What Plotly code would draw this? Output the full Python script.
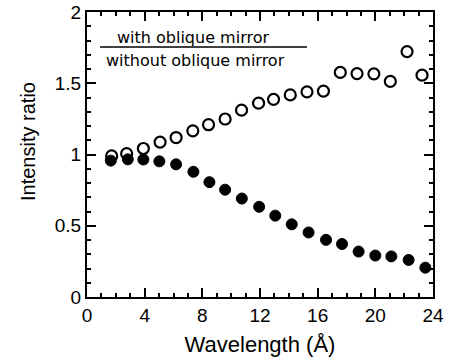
import plotly.graph_objects as go

# Data
wl_open = [1.71, 2.75, 3.91, 5.07, 6.18, 7.34, 8.43, 9.58, 10.72, 11.9,
           12.94, 14.1, 15.26, 16.4, 17.57, 18.73, 19.9, 21.04, 22.2, 23.24]
ratio_open = [0.99, 1.006, 1.042, 1.087, 1.119, 1.166, 1.209, 1.249, 1.311, 1.36,
              1.387, 1.418, 1.44, 1.445, 1.576, 1.568, 1.566, 1.513, 1.722, 1.557]

wl_filled = [1.65, 2.83, 3.91, 5.02, 6.18, 7.38, 8.49, 9.58, 10.74, 11.94,
             13.06, 14.2, 15.37, 16.58, 17.69, 18.84, 20.0, 21.11, 22.31, 23.47]
ratio_filled = [0.957, 0.966, 0.965, 0.952, 0.931, 0.879, 0.806, 0.753, 0.691, 0.633,
                0.571, 0.51, 0.453, 0.401, 0.372, 0.319, 0.291, 0.285, 0.26, 0.206]

x_ticks = [0, 4, 8, 12, 16, 20, 24]
y_ticks = [0, 0.5, 1, 1.5, 2]

fig = go.Figure()
fig.add_trace(go.Scatter(x=wl_filled, y=ratio_filled, mode="markers",
                         marker=dict(symbol="circle", size=11, color="black",
                                     line=dict(color="black", width=1)),
                         showlegend=False))
fig.add_trace(go.Scatter(x=wl_open, y=ratio_open, mode="markers",
                         marker=dict(symbol="circle-open", size=11, color="black",
                                     line=dict(color="black", width=2.2)),
                         showlegend=False))

font = "Liberation Sans, Arial, sans-serif"
axis_common = dict(ticks="inside", ticklen=9, tickwidth=2, tickcolor="black",
                   showline=True, linecolor="black", linewidth=2, mirror="allticks",
                   showgrid=False, zeroline=False, tickfont=dict(size=19))
fig.update_layout(
    template="none",
    width=454, height=363,
    margin=dict(l=87, r=21, t=12, b=66),
    paper_bgcolor="white", plot_bgcolor="white",
    font=dict(family=font, color="black", size=15),
    xaxis=dict(range=[0, 24], tickmode="linear", tick0=x_ticks[0],
               dtick=x_ticks[1] - x_ticks[0], **axis_common,
               minor=dict(dtick=1, ticks="inside", ticklen=4, tickwidth=1.5,
                          tickcolor="black", showgrid=False),
               title=dict(text="Wavelength (Å)", font=dict(size=22), standoff=12)),
    yaxis=dict(range=[0, 2], tickmode="linear", tick0=y_ticks[0],
               dtick=y_ticks[1] - y_ticks[0], **axis_common,
               minor=dict(dtick=0.1, ticks="inside", ticklen=4, tickwidth=1.5,
                          tickcolor="black", showgrid=False)),
)

# y-axis title (placed slightly above centre as in the reference)
fig.add_annotation(xref="paper", yref="paper", x=(28 - 87) / 346, y=(297 - 142) / 285,
                   text="Intensity ratio", textangle=-90, showarrow=False,
                   font=dict(size=20), xanchor="center", yanchor="middle")

lfont = dict(size=16, family="DejaVu Sans, sans-serif")
fig.add_annotation(xref="paper", yref="paper", x=(192.5 - 87) / 346, y=(297 - 38) / 285,
                   text="with oblique mirror", showarrow=False, font=lfont,
                   xanchor="center", yanchor="middle")
fig.add_annotation(xref="paper", yref="paper", x=(195.5 - 87) / 346, y=(297 - 61) / 285,
                   text="without oblique mirror", showarrow=False, font=lfont,
                   xanchor="center", yanchor="middle")
fig.add_shape(type="line", xref="paper", yref="paper",
              x0=(100 - 87) / 346, x1=(307 - 87) / 346,
              y0=(297 - 47) / 285, y1=(297 - 47) / 285,
              line=dict(color="black", width=1.5))

fig.write_html("out.html")
